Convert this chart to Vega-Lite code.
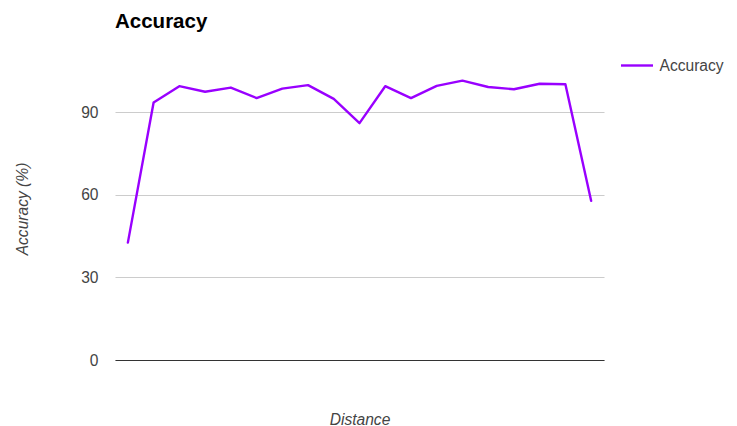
{
  "$schema": "https://vega.github.io/schema/vega-lite/v6.json",
  "autosize": "none",
  "width": 489,
  "height": 303,
  "padding": {"left": 115, "top": 57, "right": 133, "bottom": 66},
  "background": "white",
  "title": {
    "text": "Accuracy",
    "anchor": "start",
    "frame": "group",
    "font": "Liberation Sans",
    "fontSize": 20.5,
    "fontWeight": "bold",
    "color": "#000000",
    "baseline": "alphabetic",
    "offset": 0
  },
  "data": {
    "values": [
      {"distance": 1, "series": "Accuracy", "accuracy": 42.6},
      {"distance": 2, "series": "Accuracy", "accuracy": 93.5},
      {"distance": 3, "series": "Accuracy", "accuracy": 99.4},
      {"distance": 4, "series": "Accuracy", "accuracy": 97.4},
      {"distance": 5, "series": "Accuracy", "accuracy": 98.9},
      {"distance": 6, "series": "Accuracy", "accuracy": 95.1},
      {"distance": 7, "series": "Accuracy", "accuracy": 98.5},
      {"distance": 8, "series": "Accuracy", "accuracy": 99.8},
      {"distance": 9, "series": "Accuracy", "accuracy": 94.8},
      {"distance": 10, "series": "Accuracy", "accuracy": 86.0},
      {"distance": 11, "series": "Accuracy", "accuracy": 99.4},
      {"distance": 12, "series": "Accuracy", "accuracy": 95.1},
      {"distance": 13, "series": "Accuracy", "accuracy": 99.5},
      {"distance": 14, "series": "Accuracy", "accuracy": 101.4},
      {"distance": 15, "series": "Accuracy", "accuracy": 99.1},
      {"distance": 16, "series": "Accuracy", "accuracy": 98.3},
      {"distance": 17, "series": "Accuracy", "accuracy": 100.3},
      {"distance": 18, "series": "Accuracy", "accuracy": 100.1},
      {"distance": 19, "series": "Accuracy", "accuracy": 57.8}
    ]
  },
  "mark": {"type": "line", "strokeWidth": 2.4, "strokeJoin": "round", "strokeCap": "round"},
  "encoding": {
    "x": {
      "field": "distance",
      "type": "ordinal",
      "scale": {"type": "point", "padding": 0.5},
      "axis": {
        "title": "Distance",
        "labels": false,
        "ticks": false,
        "grid": false,
        "domain": true,
        "domainColor": "#333333",
        "domainWidth": 1.2,
        "titleFont": "Liberation Sans",
        "titleFontSize": 15.6,
        "titleFontStyle": "italic",
        "titleFontWeight": "normal",
        "titleColor": "#444444",
        "titleBaseline": "middle",
        "titleAlign": "center",
        "titleX": 244.5,
        "titleY": 59
      }
    },
    "y": {
      "field": "accuracy",
      "type": "quantitative",
      "scale": {"domain": [0, 110], "nice": false, "zero": true},
      "axis": {
        "title": "Accuracy (%)",
        "values": [0, 30, 60, 90],
        "domain": false,
        "ticks": false,
        "grid": true,
        "gridColor": "#cccccc",
        "gridWidth": 1.2,
        "labelFont": "Liberation Sans",
        "labelFontSize": 15.6,
        "labelColor": "#444444",
        "labelPadding": 17,
        "titleFont": "Liberation Sans",
        "titleFontSize": 15.6,
        "titleFontStyle": "italic",
        "titleFontWeight": "normal",
        "titleColor": "#444444",
        "titleAngle": -90,
        "titleAlign": "center",
        "titleBaseline": "middle",
        "titleX": -93,
        "titleY": 151.5
      }
    },
    "color": {
      "field": "series",
      "type": "nominal",
      "scale": {"range": ["#9900ff"]},
      "legend": {
        "title": null,
        "orient": "none",
        "legendX": 504.5,
        "legendY": -9,
        "padding": 0,
        "symbolType": "stroke",
        "symbolSize": 1024,
        "symbolStrokeWidth": 2.4,
        "labelFont": "Liberation Sans",
        "labelFontSize": 15.6,
        "labelColor": "#444444",
        "labelOffset": 5
      }
    }
  },
  "config": {
    "view": {"stroke": null}
  }
}
